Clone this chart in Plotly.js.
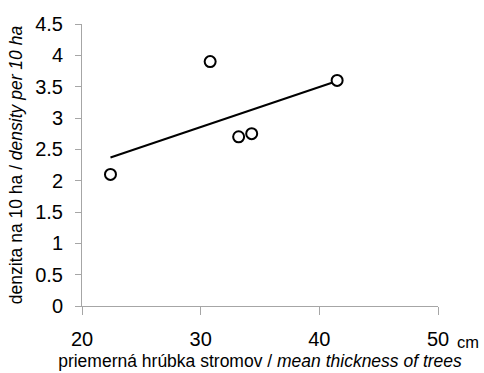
<!DOCTYPE html>
<html>
<head>
<meta charset="utf-8">
<script src="https://cdn.plot.ly/plotly-3.0.1.min.js"></script>
<style>html,body{margin:0;padding:0;background:#fff}#chart{width:484px;height:373px}</style>
</head>
<body>
<div id="chart"></div>
<script>
// mean thickness of trees (cm) and density per 10 ha
const thickness = [22.4, 30.8, 33.2, 34.3, 41.5];
const density = [2.1, 3.9, 2.7, 2.75, 3.6];
// linear trendline end points
const trendX = [22.4, 41.5];
const trendY = [2.37, 3.59];
const xTicks = [20, 30, 40, 50];
const yTicks = [0, 0.5, 1, 1.5, 2, 2.5, 3, 3.5, 4, 4.5];
const yTickText = ['0', '0.5', '1', '1.5', '2', '2.5', '3', '3.5', '4', '4.5'];

const axisColor = '#a6a6a6';
const font = 'Liberation Sans, Arial, sans-serif';

const data = [
  {
    x: trendX, y: trendY, mode: 'lines', type: 'scatter',
    line: {color: '#000', width: 2}, hoverinfo: 'skip'
  },
  {
    x: thickness, y: density, mode: 'markers', type: 'scatter',
    marker: {symbol: 'circle', size: 11, color: '#fff', line: {color: '#000', width: 2}}
  }
];

const layout = {
  width: 484, height: 373,
  margin: {l: 82, r: 46, t: 24, b: 67},
  paper_bgcolor: '#fff', plot_bgcolor: '#fff',
  showlegend: false,
  font: {family: font, color: '#000'},
  xaxis: {
    range: [20, 50], tickvals: xTicks, ticktext: xTicks.map(String),
    showgrid: false, zeroline: false, showline: true, linecolor: axisColor, linewidth: 1,
    ticks: 'outside', ticklen: 8, tickcolor: axisColor, tickwidth: 1,
    tickfont: {size: 20, family: font, color: '#000'},
    ticklabelstandoff: 7,
    title: {text: 'priemerná hrúbka stromov / <i>mean thickness of trees</i>', font: {size: 17.5, family: font, color: '#000'}, standoff: 5}
  },
  yaxis: {
    range: [0, 4.5], tickvals: yTicks, ticktext: yTickText,
    showgrid: false, zeroline: false, showline: true, linecolor: axisColor, linewidth: 1,
    ticks: 'outside', ticklen: 6, tickcolor: axisColor, tickwidth: 1,
    tickfont: {size: 20, family: font, color: '#000'},
    ticklabelstandoff: 8,
    title: {text: 'denzita na 10 ha / <i>density per 10 ha</i>', font: {size: 17.5, family: font, color: '#000'}, standoff: 8}
  },
  annotations: [{
    text: 'cm', xref: 'paper', yref: 'paper', x: 1, y: 0, xanchor: 'left', yanchor: 'top',
    xshift: 17, yshift: -25, showarrow: false, font: {size: 16.5, family: font, color: '#000'}
  }]
};

Plotly.newPlot('chart', data, layout, {displayModeBar: false, staticPlot: true});
</script>
</body>
</html>
